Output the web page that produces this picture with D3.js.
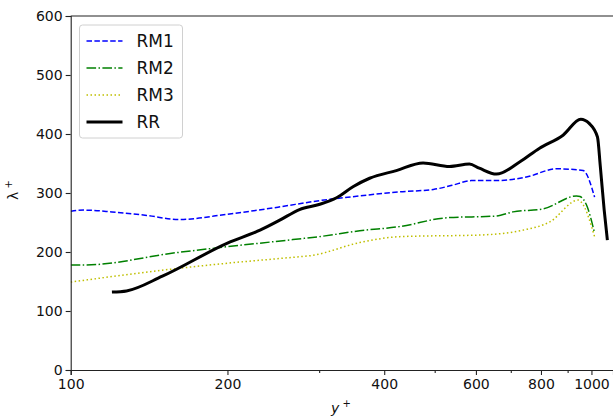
<!DOCTYPE html>
<html>
<head>
<meta charset="utf-8">
<script src="https://cdn.jsdelivr.net/npm/d3@7"></script>
<style>
  html, body { margin: 0; padding: 0; background: #fff; }
  svg { display: block; font-family: "DejaVu Sans", sans-serif; }
</style>
</head>
<body>
<svg id="chart" width="613" height="418"></svg>
<script>
// values
var rm1X = [100, 106, 120, 140, 161, 200, 250, 300, 359, 428, 497, 540, 588, 657, 750, 857, 964, 1014];
var rm1Y = [269, 271, 268, 262, 255, 264, 276, 287, 295, 302, 306, 313, 321, 321, 327, 341, 338, 293];

var rm2X = [100, 106, 160, 200, 267, 300, 359, 428, 527, 657, 707, 808, 936, 951, 978, 1014];
var rm2Y = [178, 178, 199, 209, 221, 226, 236, 243, 258, 261, 268, 273, 295, 294, 280, 232];

var rm3X = [100, 160, 200, 267, 290, 359, 428, 619, 738, 832, 943, 955, 1014];
var rm3Y = [149, 172, 181, 191, 194, 216, 226, 229, 237, 251, 288, 285, 226];

var rrX = [120, 128, 150, 200, 231, 252, 275, 301, 324, 349, 375, 422, 475, 534, 583, 609, 657, 729, 795, 882, 954, 990, 1027, 1040, 1058, 1073];
var rrY = [132, 134, 159, 215, 237, 254, 272, 281, 292, 311, 325, 338, 351, 345, 349, 342, 332, 353, 376, 398, 425, 418, 395, 345, 271, 220];

var seriesNames = ['RM1', 'RM2', 'RM3', 'RR'];
var xMajorTicks = [100, 200, 400, 600, 800, 1000];
var xMinorTicks = [300, 500, 700, 900];
var yTicks = [0, 100, 200, 300, 400, 500, 600];

var svg = d3.select('#chart')
  , margin = {top: 16, right: 0, bottom: 48, left: 70.7}
  , width = 613
  , height = 418
;

var x = d3.scaleLog().domain([100, 1100]).range([margin.left, width - margin.right]);
var y = d3.scaleLinear().domain([0, 600]).range([height - margin.bottom, margin.top]);

var styles = [
  {color: '#0000ff', width: 1.5, dash: '5.5,2.4'},
  {color: '#008000', width: 1.5, dash: '9.6,2.4,1.5,2.4'},
  {color: '#bfbf00', width: 1.5, dash: '1.5,2.5'},
  {color: '#000000', width: 3, dash: null}
];

function zip(xs, ys) {
  return xs.map(function(d, i) { return {x: d, y: ys[i]}; });
}
var data = [zip(rm1X, rm1Y), zip(rm2X, rm2Y), zip(rm3X, rm3Y), zip(rrX, rrY)];

svg.append('defs').append('clipPath').attr('id', 'plotclip')
  .append('rect')
  .attr('x', x.range()[0]).attr('y', y.range()[1])
  .attr('width', x.range()[1] - x.range()[0])
  .attr('height', y.range()[0] - y.range()[1]);

var line = d3.line()
  .x(function(d) { return x(d.x); })
  .y(function(d) { return y(d.y); })
  .curve(d3.curveMonotoneX);

svg.append('g').attr('clip-path', 'url(#plotclip)')
  .selectAll('path.series')
  .data(data)
  .enter().append('path')
  .attr('class', 'series')
  .attr('d', line)
  .attr('fill', 'none')
  .attr('stroke', function(d, i) { return styles[i].color; })
  .attr('stroke-width', function(d, i) { return styles[i].width; })
  .attr('stroke-dasharray', function(d, i) { return styles[i].dash; })
  .attr('stroke-linejoin', 'round');

// axes
var xAxis = d3.axisBottom(x).tickValues(xMajorTicks).tickFormat(d3.format('d')).tickSize(5).tickPadding(4);
var xMinor = d3.axisBottom(x).tickValues(xMinorTicks).tickFormat('').tickSize(3);
var yAxis = d3.axisLeft(y).tickValues(yTicks).tickSize(5).tickPadding(3);

function styleAxis(g) {
  g.select('.domain').attr('stroke', '#222').attr('stroke-width', 1.1);
  g.selectAll('.tick line').attr('stroke', '#222').attr('stroke-width', 1.1);
  g.selectAll('.tick text').attr('fill', '#111').style('font-size', '14px').style('font-family', '"DejaVu Sans", sans-serif');
}

svg.append('g').attr('transform', 'translate(0,' + y(0) + ')').call(xAxis).call(styleAxis);
svg.append('g').attr('transform', 'translate(0,' + y(0) + ')').call(xMinor).call(styleAxis)
  .select('.domain').remove();
svg.append('g').attr('transform', 'translate(' + x(100) + ',0)').call(yAxis).call(styleAxis);

// top spine
svg.append('line')
  .attr('x1', x.range()[0]).attr('x2', x.range()[1])
  .attr('y1', y(600)).attr('y2', y(600))
  .attr('stroke', '#222').attr('stroke-width', 1.1);

// axis labels
var xl = svg.append('text')
  .attr('x', 341).attr('y', 413)
  .attr('text-anchor', 'middle')
  .style('font-size', '14px').attr('fill', '#111');
xl.append('tspan').style('font-style', 'italic').text('y');
xl.append('tspan').attr('dy', -6).style('font-size', '10px').text(' +');

var yl = svg.append('text')
  .attr('transform', 'translate(18,190) rotate(-90)')
  .attr('text-anchor', 'middle')
  .style('font-size', '14px').attr('fill', '#111');
yl.append('tspan').text('λ');
yl.append('tspan').attr('dy', -6).style('font-size', '10px').text(' +');

// legend
var legend = svg.append('g').attr('transform', 'translate(79.5,25)');
legend.append('rect')
  .attr('width', 103).attr('height', 113)
  .attr('rx', 3).attr('ry', 3)
  .attr('fill', '#fff').attr('fill-opacity', 0.8)
  .attr('stroke', '#d0d0d0').attr('stroke-width', 1);

var items = legend.selectAll('g.item')
  .data(seriesNames)
  .enter().append('g')
  .attr('class', 'item')
  .attr('transform', function(d, i) { return 'translate(0,' + (16 + i * 27) + ')'; });

items.append('line')
  .attr('x1', 7).attr('x2', 43)
  .attr('stroke', function(d, i) { return styles[i].color; })
  .attr('stroke-width', function(d, i) { return styles[i].width; })
  .attr('stroke-dasharray', function(d, i) { return styles[i].dash; });

items.append('text')
  .attr('x', 57).attr('y', 6)
  .style('font-size', '17px').attr('fill', '#111')
  .text(function(d) { return d; });
</script>
</body>
</html>
